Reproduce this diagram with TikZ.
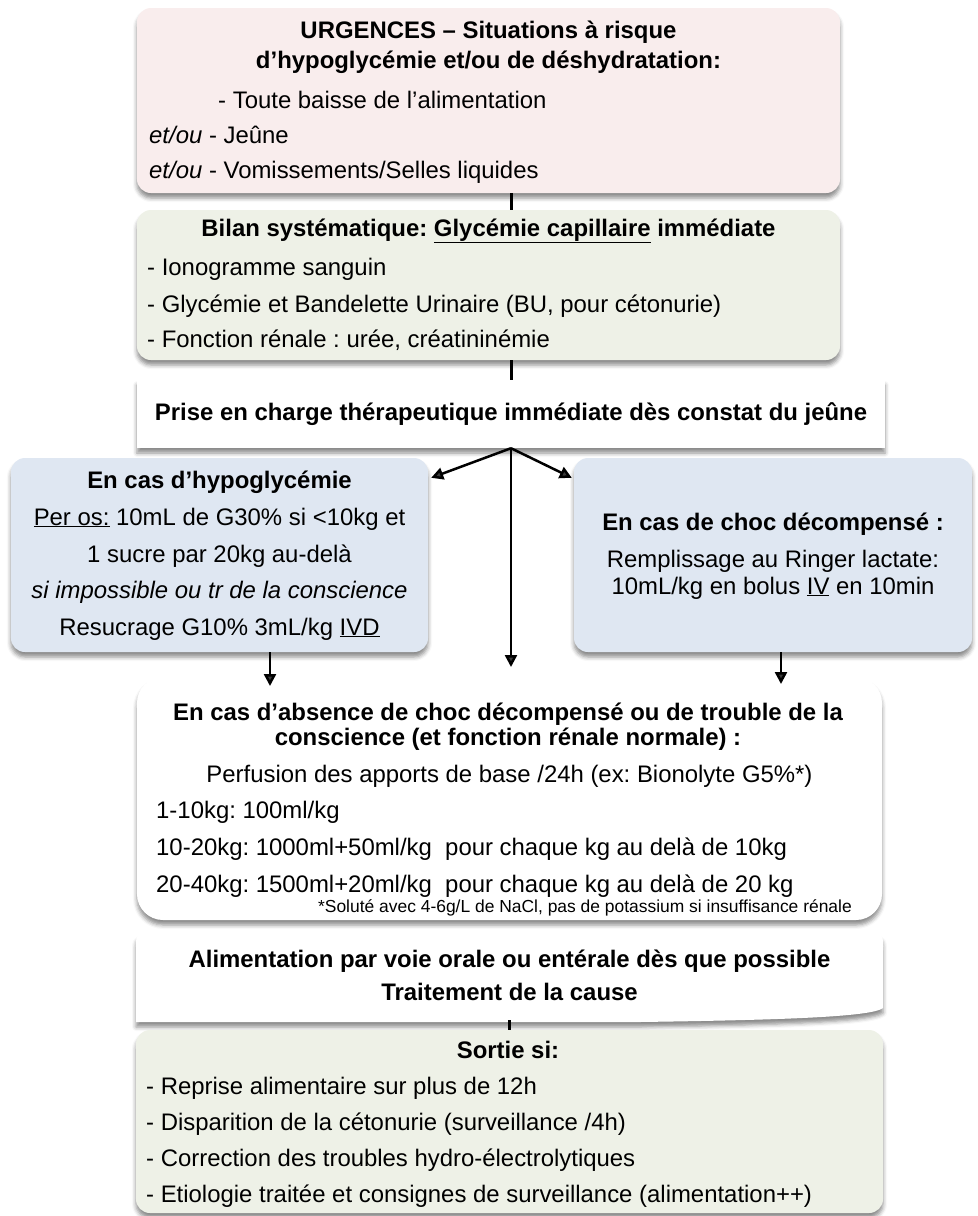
\documentclass[tikz,border=0pt]{standalone}
\usepackage{fontspec}
\setmainfont{Liberation Sans}
\frenchspacing
\usetikzlibrary{arrows.meta,shadows.blur}

\definecolor{urgpink}{RGB}{249,237,237}
\definecolor{bilangreen}{RGB}{238,241,231}
\definecolor{casblue}{RGB}{223,231,242}

\begin{document}
\begin{tikzpicture}[x=1bp, y=-1bp,
    shade/.style={blur shadow={shadow xshift=0bp, shadow yshift=-5bp, shadow blur radius=4bp, shadow opacity=45}},
    box/.style={shade, rounded corners=14bp, inner sep=0},
    txt/.style={anchor=base, inner sep=0, font=\fontsize{24}{28}\selectfont},
    ltxt/.style={txt, anchor=base west},
    btxt/.style={txt, font=\fontsize{24}{28}\selectfont\bfseries},
    link/.style={line width=3bp},
    arr/.style={line width=2.5bp, -{Triangle[length=12bp, width=12bp]}}]

    \useasboundingbox (0,0) rectangle (978,1216);

    \node[box, fill=urgpink, minimum width=703bp, minimum height=185bp] (urg) at (488.5,100.5) {};
    \node[box, fill=bilangreen, minimum width=703bp, minimum height=150bp] (bilan) at (488.5,285) {};
    \node[shade, fill=white, inner sep=0, minimum width=748bp, minimum height=68bp,
        font=\fontsize{24}{28}\selectfont\bfseries] (prise) at (511,414)
        {Prise en charge thérapeutique immédiate dès constat du jeûne};
    \node[box, fill=casblue, minimum width=417bp, minimum height=194bp] (hypo) at (219.5,555) {};
    \node[box, fill=casblue, minimum width=398bp, minimum height=194bp] (choc) at (773,555) {};
    \node[box, rounded corners=26bp, fill=white, minimum width=745bp, minimum height=243bp] (absence) at (509.5,798.5) {};

    \fill[white, shade] (136,1022) -- (136,947) .. controls (136,935) .. (148,935) -- (871,935)
        .. controls (883,935) .. (883,947) -- (883,1008) .. controls (872,1017) and (780,1020) .. (640,1022) -- cycle;
    \node[inner sep=0, minimum width=747bp, minimum height=85bp] (alim) at (509.5,977.5) {};
    \node[box, fill=bilangreen, minimum width=747bp, minimum height=183bp] (sortie) at (509.5,1121.5) {};

    \coordinate (tipL) at (270,686);
    \coordinate (tipM) at (510,667);
    \coordinate (tipR) at (781,684);

    \draw[link] (urg.south -| prise.north) -- (bilan.north -| prise.north);
    \draw[link] (bilan.south -| prise.north) -- (prise.north);
    \draw[arr] (prise.south) -- ([xshift=3bp, yshift=-20bp]hypo.north east);
    \draw[arr] (prise.south) -- ([xshift=-2bp, yshift=-20bp]choc.north west);
    \draw[arr] (prise.south) -- (prise.south |- tipM);
    \draw[arr] (hypo.south -| tipL) -- (tipL);
    \draw[arr] (choc.south -| tipR) -- (tipR);
    \draw[link] (alim.south) -- (sortie.north);

    \node[btxt] (urg1) at (488.5,38) {URGENCES – Situations à risque};
    \node[btxt] (urg2) at (488.5,68) {d’hypoglycémie et/ou de déshydratation:};
    \node[ltxt] (urg3) at (218,108) {- Toute baisse de l’alimentation};
    \node[ltxt] (urg4) at (149,143) {\textit{et/ou} - Jeûne};
    \node[ltxt] (urg5) at (149,178) {\textit{et/ou} - Vomissements/Selles liquides};

    \node[btxt] (bilan1) at (488.5,236) {Bilan systématique: \underline{Glycémie capillaire} immédiate};
    \node[ltxt] (bilan2) at (147,275) {- Ionogramme sanguin};
    \node[ltxt] (bilan3) at (147,312) {- Glycémie et Bandelette Urinaire (BU, pour cétonurie)};
    \node[ltxt] (bilan4) at (147,347) {- Fonction rénale : urée, créatininémie};

    \node[btxt] (hypo1) at (219.5,488) {En cas d’hypoglycémie};
    \node[txt] (hypo2) at (219.5,525) {\underline{Per os:} 10mL de G30\% si <10kg et};
    \node[txt] (hypo3) at (219.5,562) {1 sucre par 20kg au-delà};
    \node[txt] (hypo4) at (219.5,598) {\textit{si impossible ou tr de la conscience}};
    \node[txt] (hypo5) at (219.5,635) {Resucrage G10\% 3mL/kg \underline{IVD}};

    \node[btxt] (choc1) at (773,530) {En cas de choc décompensé :};
    \node[txt] (choc2) at (773,567) {Remplissage au Ringer lactate:};
    \node[txt] (choc3) at (773,594) {10mL/kg en bolus \underline{IV} en 10min};

    \node[btxt] (abs1) at (508,720) {En cas d’absence de choc décompensé ou de trouble de la};
    \node[btxt] (abs2) at (508,745) {conscience (et fonction rénale normale) :};
    \node[txt] (abs3) at (509.5,782) {Perfusion des apports de base /24h (ex: Bionolyte G5\%*)};
    \node[ltxt] (abs4) at (156,818) {1-10kg: 100ml/kg};
    \node[ltxt] (abs5) at (156,855) {10-20kg: 1000ml+50ml/kg~ pour chaque kg au delà de 10kg};
    \node[ltxt] (abs6) at (156,892) {20-40kg: 1500ml+20ml/kg~ pour chaque kg au delà de 20 kg};
    \node[txt, anchor=base east, font=\fontsize{17.5}{20}\selectfont] (abs7) at (852,912)
        {*Soluté avec 4-6g/L de NaCl, pas de potassium si insuffisance rénale};

    \node[btxt] (alim1) at (509.5,967) {Alimentation par voie orale ou entérale dès que possible};
    \node[btxt] (alim2) at (509.5,1000) {Traitement de la cause};

    \node[btxt] (sortie1) at (508,1058) {Sortie si:};
    \node[ltxt] (sortie2) at (146,1094) {- Reprise alimentaire sur plus de 12h};
    \node[ltxt] (sortie3) at (146,1130) {- Disparition de la cétonurie (surveillance /4h)};
    \node[ltxt] (sortie4) at (146,1166) {- Correction des troubles hydro-électrolytiques};
    \node[ltxt] (sortie5) at (146,1202) {- Etiologie traitée et consignes de surveillance (alimentation++)};
\end{tikzpicture}
\end{document}
